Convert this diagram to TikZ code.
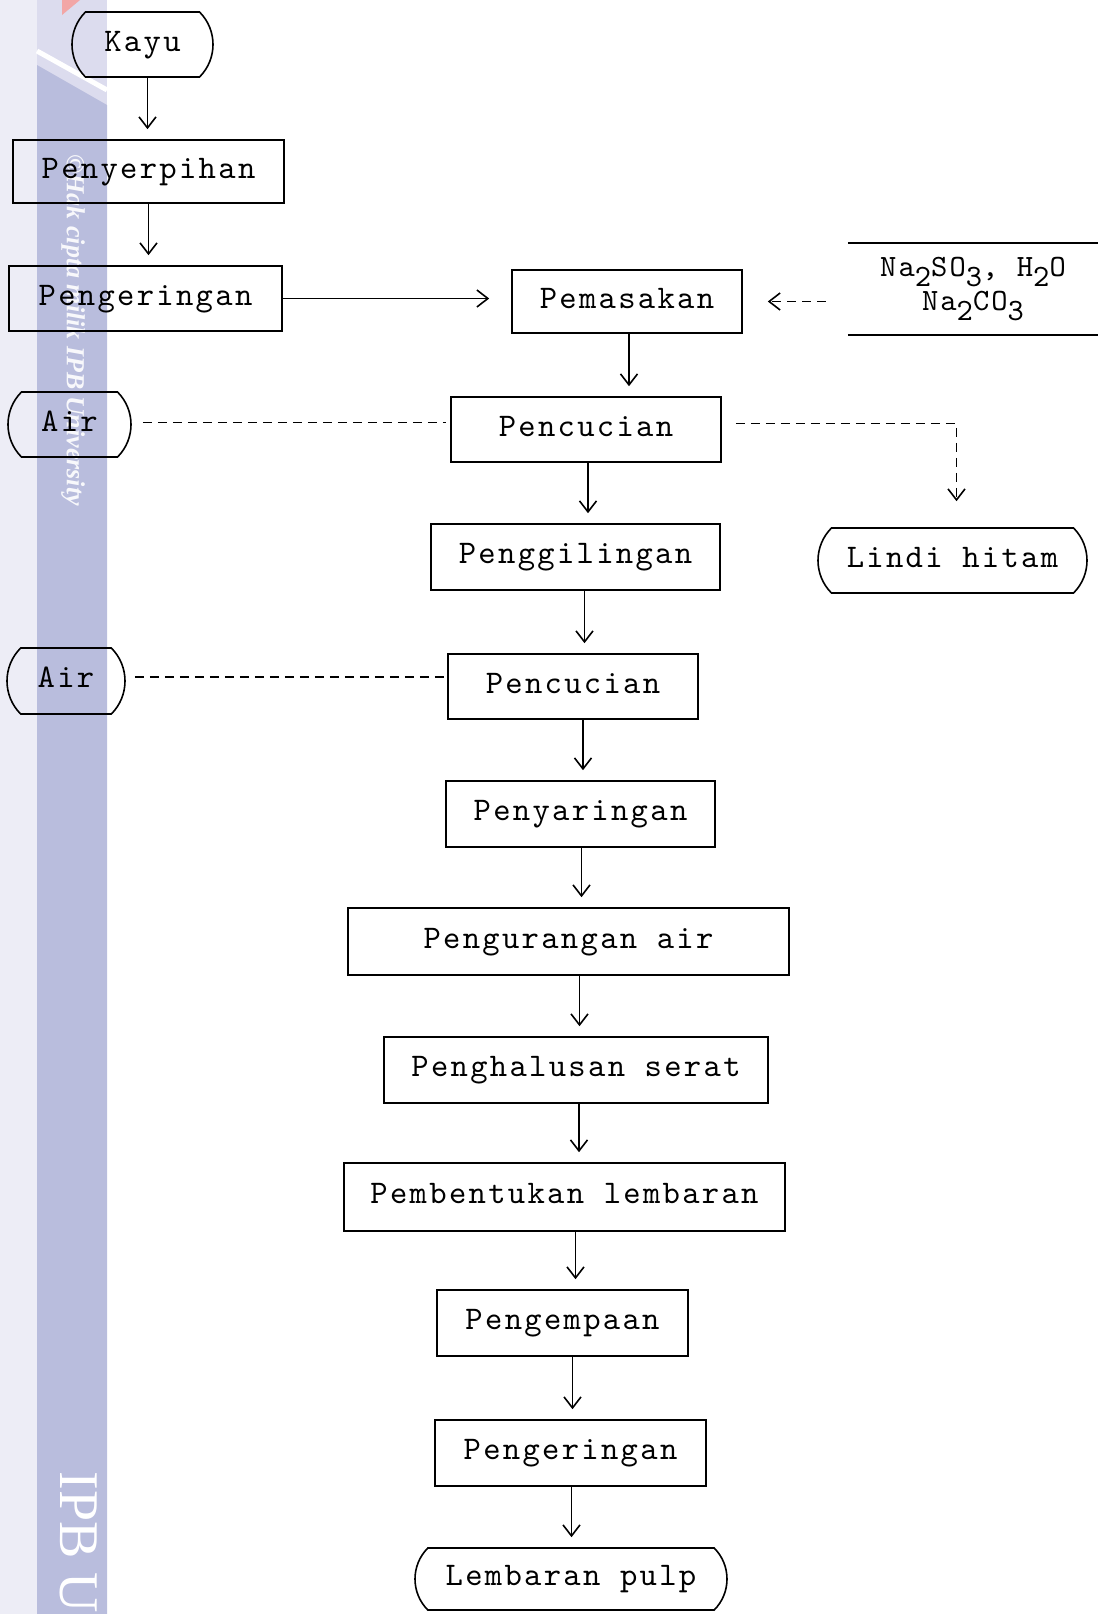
\documentclass[tikz,border=0pt]{standalone}
\usepackage{fontspec}
\usepackage{tikz}
\usetikzlibrary{arrows.meta,positioning,shapes.misc}
\newfontfamily\tw[LetterSpace=7]{lmmono10-regular.otf}
\newfontfamily\wmfont{Liberation Serif}
\newcommand{\lowdig}[1]{\raisebox{-0.33em}{#1}}
\definecolor{stripelight}{HTML}{EDEDF6}
\definecolor{stripetop}{HTML}{DCDCEE}
\definecolor{stripeblue}{HTML}{B9BDDD}
\definecolor{stripepink}{HTML}{F2A6A6}

\begin{document}
\begin{tikzpicture}[
  x=1pt,y=-1pt,
  box/.style={draw,line width=1.6pt,minimum height=65pt,inner sep=0pt,text height=20pt,text depth=7pt,font=\tw\fontsize{33}{38}\selectfont},
  term/.style={box,rounded rectangle,rounded rectangle arc length=90},
  kimia/.style={minimum width=250pt,minimum height=92pt,inner sep=0pt,align=center,font=\tw\fontsize{31}{34}\selectfont},
  arr/.style={-{Straight Barb[length=11pt,width=17pt]},line width=1.6pt,shorten >=10pt},
  dasharr/.style={arr,dash pattern=on 9pt off 6pt},
  dashline/.style={line width=1.4pt,dash pattern=on 9pt off 6pt}
]
\useasboundingbox (0,0) rectangle (1098,1614);

% watermark stripe
\begin{scope}
\clip (0,0) rectangle (1098,1614);
\fill[stripelight] (0,0) rectangle (37,1614);
\fill[stripetop] (37,0) rectangle (107,110);
\fill[stripeblue] (37,65) -- (107,105) -- (107,1614) -- (37,1614) -- cycle;
\draw[white,line width=5pt] (37,51) -- (107,90);
\fill[stripepink] (62,0) -- (80,0) -- (62,15) -- cycle;
\node[rotate=-90,white,opacity=0.9,font=\wmfont\bfseries\itshape\fontsize{26}{30}\selectfont] (hakcipta) at (73,330) {©Hak cipta milik IPB University};
\node[rotate=-90,anchor=west,white,font=\wmfont\fontsize{56}{60}\selectfont] (ipbu) at (73,1468) {IPB University};
\end{scope}

% flow
\node[term,minimum width=141pt] (kayu) at (142.5,44.5) {Kayu};
\node[box,minimum width=271pt,minimum height=63pt] (serpih) at (148.5,171.5) {Penyerpihan};
\node[box,minimum width=273pt] (kering1) at (145.5,298.5) {Pengeringan};
\node[box,minimum width=230pt,minimum height=63pt] (masak) at (627,301.5) {Pemasakan};
\node[kimia] (kimia) at (973,289) {Na\lowdig{2}SO\lowdig{3}, H\lowdig{2}O\\Na\lowdig{2}CO\lowdig{3}};
\node[box,minimum width=270pt] (cuci1) at (586,429.5) {Pencucian};
\node[term,minimum width=123pt] (air1) at (69.5,424.5) {Air};
\node[term,minimum width=269pt] (lindi) at (952.5,560.5) {Lindi hitam};
\node[box,minimum width=289pt,minimum height=66pt] (giling) at (575.5,557) {Penggilingan};
\node[term,minimum width=118pt,minimum height=66pt] (air2) at (66,681) {Air};
\node[box,minimum width=250pt] (cuci2) at (573,686.5) {Pencucian};
\node[box,minimum width=269pt,minimum height=66pt] (saring) at (580.5,814) {Penyaringan};
\node[box,minimum width=441pt,minimum height=67pt] (kurang) at (568.5,941.5) {Pengurangan air};
\node[box,minimum width=384pt,minimum height=66pt] (halus) at (576,1070) {Penghalusan serat};
\node[box,minimum width=441pt,minimum height=68pt] (bentuk) at (564.5,1197) {Pembentukan lembaran};
\node[box,minimum width=251pt,minimum height=66pt] (kempa) at (562.5,1323) {Pengempaan};
\node[box,minimum width=271pt,minimum height=66pt] (kering2) at (570.5,1453) {Pengeringan};
\node[term,minimum width=312pt,minimum height=62pt] (pulp) at (571,1579) {Lembaran pulp};

\draw[line width=1.6pt] (kimia.north west) -- (kimia.north east);
\draw[line width=1.6pt] (kimia.south west) -- (kimia.south east);

\draw[arr] ([xshift=5pt]kayu.south) -- ([xshift=5pt]kayu.south |- serpih.north);
\draw[arr] (serpih.south) -- (serpih.south |- kering1.north);
\draw[arr,shorten >=22pt] (kering1.east) -- (kering1.east -| masak.west);
\draw[dasharr,shorten <=22pt,shorten >=25pt] (masak.east -| kimia.west) -- (masak.east);
\draw[arr] ([xshift=2pt]masak.south) -- ([xshift=2pt]masak.south |- cuci1.north);
\draw[dashline,shorten <=11pt,shorten >=4pt] ([yshift=2pt]air1.east) -- ([yshift=2pt]air1.east -| cuci1.west);
\draw[dasharr,shorten <=14pt,shorten >=26pt] ([yshift=6pt]cuci1.east) -| ([xshift=4pt]lindi.north);
\draw[arr] ([xshift=2pt]cuci1.south) -- ([xshift=2pt]cuci1.south |- giling.north);
\draw[arr] ([xshift=9pt]giling.south) -- ([xshift=9pt]giling.south |- cuci2.north);
\draw[dashline,shorten <=9pt,shorten >=3pt] ([yshift=4pt]air2.east) -- ([yshift=4pt]air2.east -| cuci2.west);
\draw[arr] ([xshift=10pt]cuci2.south) -- ([xshift=10pt]cuci2.south |- saring.north);
\draw[arr] ([xshift=1pt]saring.south) -- ([xshift=1pt]saring.south |- kurang.north);
\draw[arr] ([xshift=11pt]kurang.south) -- ([xshift=11pt]kurang.south |- halus.north);
\draw[arr] ([xshift=3pt]halus.south) -- ([xshift=3pt]halus.south |- bentuk.north);
\draw[arr] ([xshift=11pt]bentuk.south) -- ([xshift=11pt]bentuk.south |- kempa.north);
\draw[arr] ([xshift=10pt]kempa.south) -- ([xshift=10pt]kempa.south |- kering2.north);
\draw[arr] ([xshift=1pt]kering2.south) -- ([xshift=1pt]kering2.south |- pulp.north);
\end{tikzpicture}
\end{document}
